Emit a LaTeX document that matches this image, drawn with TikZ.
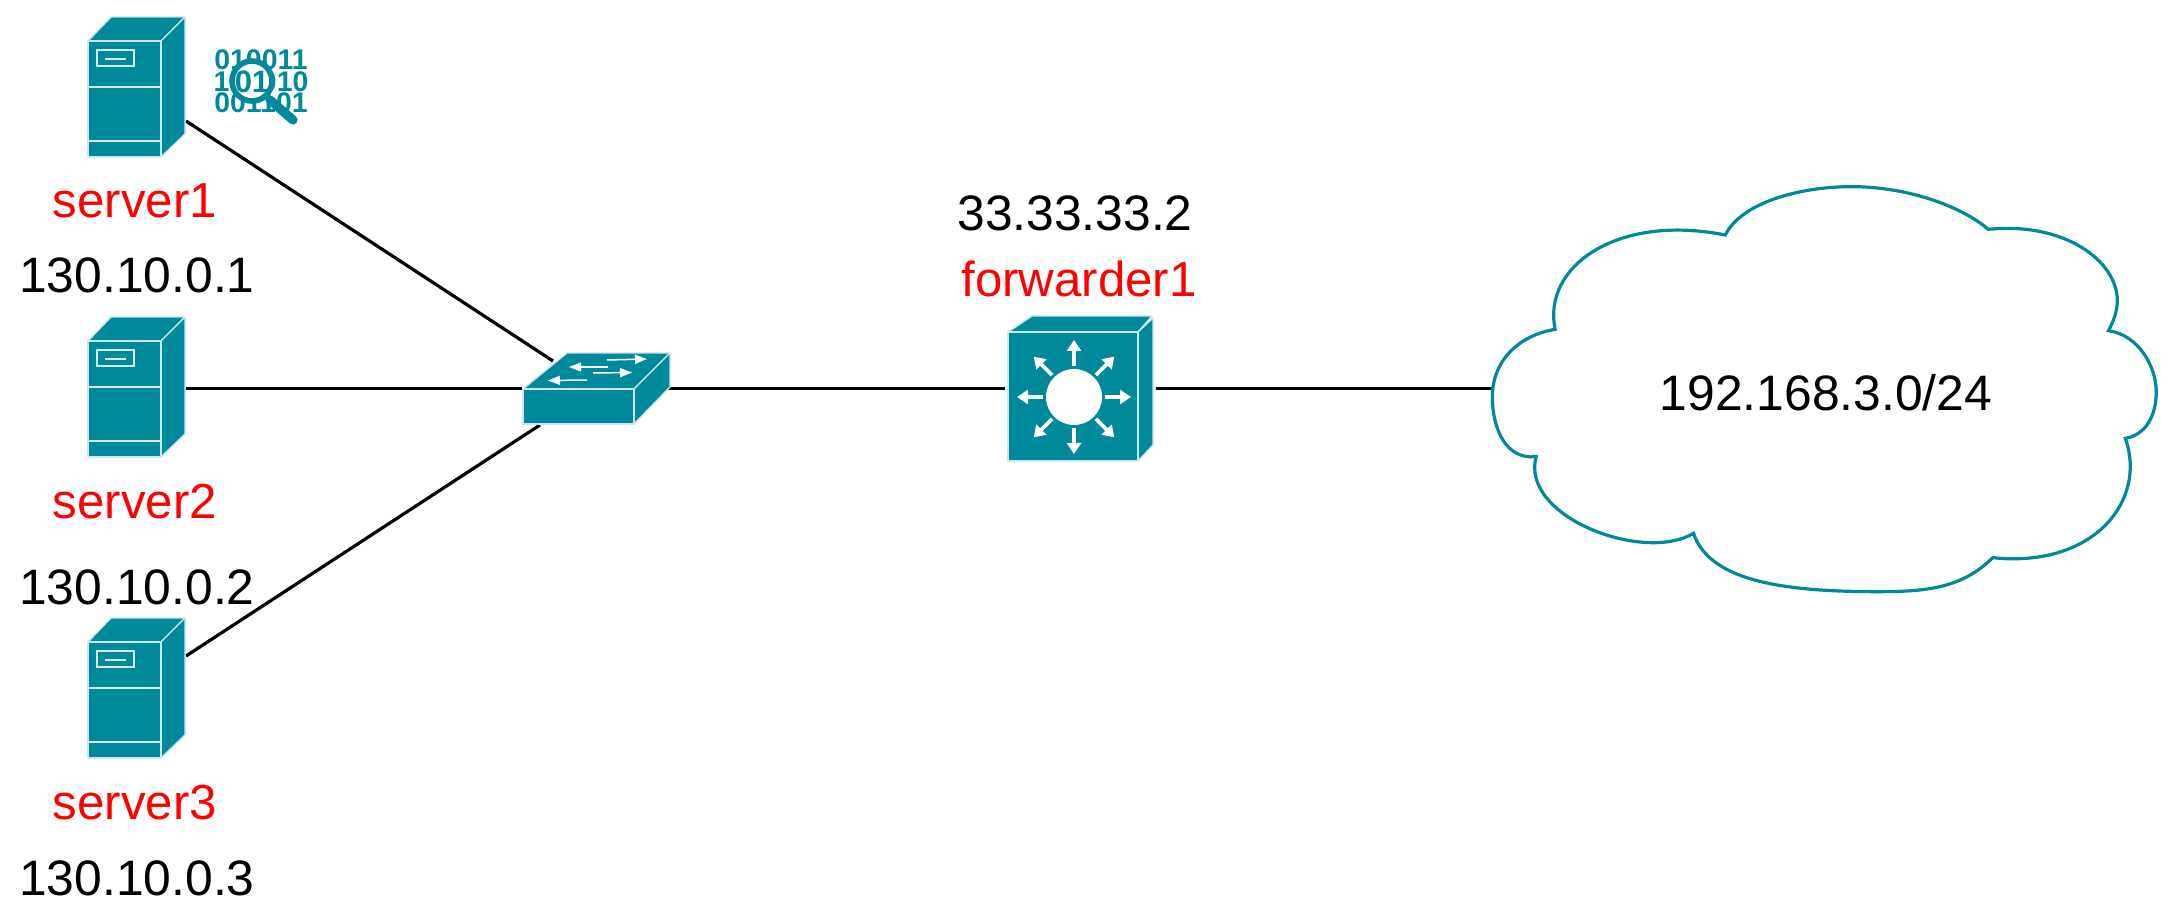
\documentclass[tikz,border=0pt]{standalone}
\usepackage{fontspec}
\setmainfont{Liberation Sans}
\usetikzlibrary{arrows.meta}
\definecolor{ciscoteal}{HTML}{00899B}
\tikzset{
  x=0.5pt,y=-0.5pt,
  link/.style={draw=black,line width=1.6pt},
  face/.style={fill=ciscoteal,draw=white!80!ciscoteal,line width=0.7pt,line join=round},
  detail/.style={draw=white!85!ciscoteal,line width=0.7pt},
  lbl/.style={font=\fontsize{24.9}{28}\selectfont,inner sep=0pt,text=black},
  redlbl/.style={font=\fontsize{24.6}{28}\selectfont,inner sep=0pt,text=red},
  swarrow/.style={draw=white,line width=0.75pt,-{Triangle[length=6pt,width=4.5pt]}},
  rtarrow/.style={draw=white,line width=1.9pt,-{Triangle[length=5.5pt,width=7pt]}},
  pics/serverbox/.style={code={
    \path[face] (88,41)--(111,17)--(185,17)--(161,41)--cycle;
    \path[face] (161,41)--(185,17)--(185,134)--(161,157)--cycle;
    \path[face] (88,41) rectangle (161,157);
    \draw[detail] (97,50) rectangle (134,66);
    \draw[detail] (105,59)--(126,59);
    \draw[detail] (88,87)--(161,87);
    \draw[detail] (88,141)--(161,141);
  }}
}
\begin{document}
\begin{tikzpicture}
\useasboundingbox (0,0) rectangle (2175,924);
% connector ends
\coordinate (s1port) at (186,121);
\coordinate (s2port) at (186,388.5);
\coordinate (s3port) at (186,656);
\coordinate (swa) at (553,361);
\coordinate (swb) at (522,388.5);
\coordinate (swc) at (540,425);
\coordinate (swd) at (667,388.5);
\coordinate (fwl) at (1005,388.5);
\coordinate (fwr) at (1156,388.5);
\coordinate (cloudl) at (1492,388.5);
\draw[link] (s1port)--(swa);
\draw[link] (s2port)--(swb);
\draw[link] (s3port)--(swc);
\draw[link] (swd)--(fwl);
\draw[link] (fwr)--(cloudl);
% servers
\pic at (0,0) {serverbox};
\pic at (0,300) {serverbox};
\pic at (0,601) {serverbox};
% capture icon
\begin{scope}[every node/.style={font=\bfseries\fontsize{14.2}{14.2}\selectfont,text=ciscoteal,inner sep=0pt}]
\node (bin1) at (261,60) {010011};
\node (bin2) at (261,82) {101010};
\node (bin3) at (261,103) {001101};
\end{scope}
\fill[white] (252,81) circle (21);
\draw[ciscoteal,line width=2.8pt] (252,81) circle (20);
\node[font=\bfseries\fontsize{15.5}{15.5}\selectfont,text=ciscoteal,inner sep=0pt] (binzoom) at (252,82) {01};
\draw[ciscoteal,line width=4.6pt,line cap=round] (270,100)--(293,120);
% switch
\path[face] (523,389)--(567,353)--(670,353)--(634,389)--cycle;
\path[face] (634,389)--(670,353)--(670,387)--(634,424)--cycle;
\path[face] (523,389) rectangle (634,424);
\draw[swarrow] (607,360)--(647,359);
\draw[swarrow] (608,367)--(569,367);
\draw[swarrow] (593,373)--(632,372.5);
\draw[swarrow] (587,380)--(548,380.5);
% forwarder
\path[face] (1008,332)--(1032,316)--(1152,316)--(1138,332)--cycle;
\path[face] (1138,332)--(1153,318)--(1153,445)--(1138,461)--cycle;
\path[face] (1008,332) rectangle (1138,461);
\coordinate (fwc) at (1074,397);
\fill[white] (fwc) circle (28);
\foreach \a in {0,45,...,315}
  \draw[rtarrow] (fwc) ++(\a:31) -- ++(\a:26);
% cloud
\begin{scope}[shift={(1480,170)},x=0.221pt,y=-0.16667pt]
\draw[ciscoteal,line width=1.6pt,fill=white,line join=miter]
  (555,195)
  .. controls (590,100) and (720,50) .. (840,50)
  .. controls (970,50) and (1090,110) .. (1150,178)
  .. controls (1320,155) and (1440,270) .. (1442,390)
  .. controls (1442,420) and (1435,450) .. (1422,482)
  .. controls (1490,495) and (1530,590) .. (1530,665)
  .. controls (1530,740) and (1505,795) .. (1460,805)
  .. controls (1510,990) and (1390,1195) .. (1160,1163)
  .. controls (1090,1255) and (1010,1265) .. (900,1265)
  .. controls (690,1265) and (520,1235) .. (483,1090)
  .. controls (370,1180) and (90,1040) .. (127,860)
  .. controls (60,870) and (28,780) .. (28,680)
  .. controls (28,570) and (90,495) .. (170,478)
  .. controls (140,290) and (310,130) .. (555,195)
  -- cycle;
\end{scope}
% labels
\node[redlbl] (l1) at (135,201) {server1};
\node[lbl] (a1) at (137,275) {130.10.0.1};
\node[redlbl] (l2) at (135,502) {server2};
\node[lbl] (a2) at (137,587) {130.10.0.2};
\node[redlbl] (l3) at (135,803) {server3};
\node[lbl] (a3) at (137,878) {130.10.0.3};
\node[lbl] (fwip) at (1075,213) {33.33.33.2};
\node[redlbl] (fwname) at (1079,279) {forwarder1};
\node[lbl] (net) at (1826,393) {192.168.3.0/24};
\end{tikzpicture}
\end{document}
